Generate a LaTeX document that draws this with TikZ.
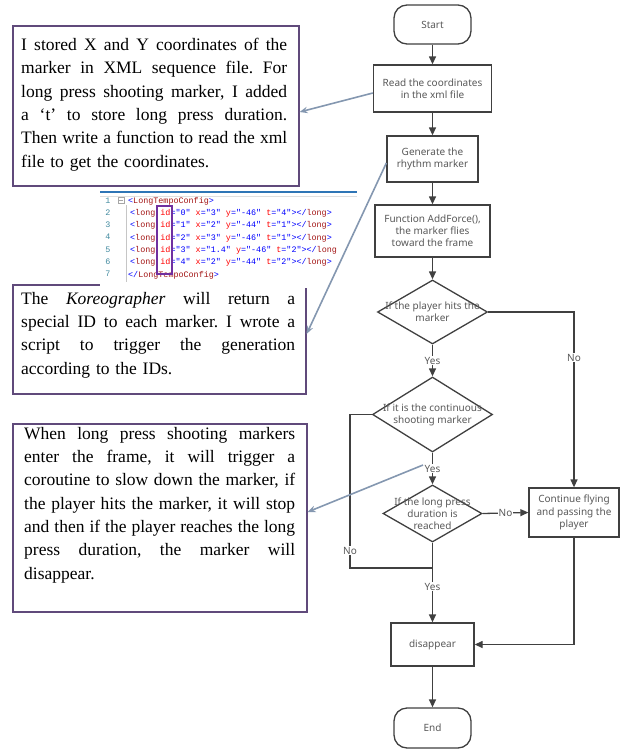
\documentclass[tikz,border=0pt]{standalone}
\usepackage{fontspec}
\setmainfont{Liberation Serif}
\newfontfamily\flowfont{Noto Sans}
\newfontfamily\codefont{Liberation Mono}
\usetikzlibrary{shapes.geometric,arrows.meta,calc}
\definecolor{boxpurple}{HTML}{604A7B}
\definecolor{linkblue}{HTML}{8497B0}
\definecolor{flowline}{HTML}{404040}
\definecolor{flowtext}{HTML}{595959}
\definecolor{codeblue}{HTML}{0000FF}
\definecolor{codebrown}{HTML}{A31515}
\definecolor{codered}{HTML}{FF0000}
\definecolor{codenum}{HTML}{2B91AF}
\definecolor{codebar}{HTML}{2E75B6}
\definecolor{hlpurple}{HTML}{7030A0}
\frenchspacing
\newcommand{\jl}[2]{{\spaceskip=0pt\xspaceskip=0pt\makebox[#1][s]{#2}}}
\newcommand{\kb}[1]{\textcolor{codeblue}{#1}}
\newcommand{\kn}[1]{\textcolor{codebrown}{#1}}
\newcommand{\kr}[1]{\textcolor{codered}{#1}}
\newcommand{\kline}[5]{\kb{<}\kn{long} \kr{id}\kb{="#1"} \kr{x}\kb{="#2"} \kr{y}\kb{="#3"} \kr{t}\kb{="#4"}\kb{></}\kn{long}#5}
\tikzset{
  notebox/.style={draw=boxpurple, line width=1.2pt, fill=white, inner sep=0pt},
  notetext/.style={inner sep=0pt, anchor=west, align=left, font=\fontsize{17.5}{23.3}\selectfont},
  flowbox/.style={draw=flowline, line width=1.3pt, fill=white, text=flowtext, align=center, inner sep=0pt,
    font=\flowfont\fontsize{10}{12.2}\selectfont},
  term/.style={flowbox, rounded corners=13pt},
  dia/.style={draw=flowline, line width=1.3pt, fill=white, diamond, inner sep=0pt},
  diatext/.style={text=flowtext, align=center, inner sep=0pt, font=\flowfont\fontsize{10}{12.2}\selectfont},
  flowarrow/.style={draw=flowline, line width=1.3pt, -{Triangle[length=8pt,width=7pt]}},
  flowline/.style={draw=flowline, line width=1.3pt},
  lbl/.style={fill=white, text=flowtext, inner sep=1pt, font=\flowfont\fontsize{10}{11}\selectfont},
  linkarrow/.style={draw=linkblue, line width=1.6pt, -{Stealth[length=8pt,width=6.5pt]}},
  codetext/.style={inner sep=0pt, anchor=base west, font=\codefont\fontsize{8.4}{10}\selectfont},
  codenum/.style={inner sep=0pt, anchor=base, text=codenum!70!gray, font=\codefont\fontsize{8.4}{10}\selectfont},
}
\begin{document}
\begin{tikzpicture}[x=1pt,y=-1pt]
\useasboundingbox (0,0) rectangle (628,755);

% ---------- note boxes ----------
\node[notebox, minimum width=286pt, minimum height=160pt] (box1) at (156,106) {};
\node[notetext, text width=266pt] (t1) at (21,104.5) {%
\jl{266pt}{I stored X and Y coordinates of the}\\
\jl{266pt}{marker in XML sequence file. For}\\
\jl{266pt}{long press shooting marker, I added}\\
\jl{266pt}{a `t' to store long press duration.}\\
\jl{266pt}{Then write a function to read the xml}\\
file to get the coordinates.};

\node[notebox, minimum width=293pt, minimum height=109pt] (box2) at (159.5,339.5) {};
\node[notetext, text width=274pt] (t2) at (21,335) {%
\jl{274pt}{The \textit{Koreographer} will return a}\\
\jl{274pt}{special ID to each marker. I wrote a}\\
\jl{274pt}{script to trigger the generation}\\
according to the IDs.};

\node[notebox, minimum width=294pt, minimum height=188pt] (box3) at (160,518) {};
\node[notetext, text width=271pt] (t3) at (24,505) {%
\jl{271pt}{When long press shooting markers}\\
\jl{271pt}{enter the frame, it will trigger a}\\
\jl{271pt}{coroutine to slow down the marker, if}\\
\jl{271pt}{the player hits the marker, it will stop}\\
\jl{271pt}{and then if the player reaches the long}\\
\jl{271pt}{press duration, the marker will}\\
disappear.};

% ---------- code snippet ----------
\node[fill=white, inner sep=0pt, minimum width=257pt, minimum height=99pt, anchor=north west] (code) at (100,189) {};
\draw[codebar, line width=1.8pt] (code.north west) ++(0,3) coordinate (cb1) -- ($(code.north east)+(0,3)$) coordinate (cb2);
\draw[gray!25, line width=0.8pt] ($(code.north west)+(0,7)$) coordinate (cl1) -- ($(code.north east)+(0,7)$) coordinate (cl2);
\draw[gray!45, line width=0.6pt] (126,205) coordinate (gv1) -- (126,282) coordinate (gv2);
\node[draw=gray!70, line width=0.5pt, minimum size=6pt, inner sep=0pt] (fold) at (121,200) {};
\draw[gray!70, line width=0.5pt] ($(fold.west)+(1.2,0)$) coordinate (fm1) -- ($(fold.east)+(-1.2,0)$) coordinate (fm2);
\foreach \i in {1,...,7} {
  \node[codenum] (n\i) at (108,{203+12.33*(\i-1)}) {\i};
}
\node[codetext] (c1) at (128,203) {\kb{<}\kn{LongTempoConfig}\kb{>}};
\node[codetext] (c2) at (130,215.33) {\kline{0}{3}{-46}{4}{\kb{>}}};
\node[codetext] (c3) at (130,227.66) {\kline{1}{2}{-44}{1}{\kb{>}}};
\node[codetext] (c4) at (130,240) {\kline{2}{3}{-46}{1}{\kb{>}}};
\node[codetext] (c5) at (130,252.33) {\kline{3}{1.4}{-46}{2}{}};
\node[codetext] (c6) at (130,264.66) {\kline{4}{2}{-44}{2}{\kb{>}}};
\node[codetext] (c7) at (128,277) {\kb{</}\kn{LongTempoConfig}\kb{>}};
\node[draw=hlpurple, line width=1.3pt, minimum width=15pt, minimum height=68pt, inner sep=0pt] (hl) at (164.5,240) {};

% ---------- flowchart ----------
\node[term, minimum width=77pt, minimum height=39pt] (start) at (432.5,24.5) {Start};
\node[flowbox, minimum width=118pt, minimum height=47pt] (read) at (432.5,88.5) {Read the coordinates\\in the xml file};
\node[flowbox, minimum width=91pt, minimum height=46pt] (gen) at (432.5,159) {Generate the\\rhythm marker};
\node[flowbox, minimum width=115pt, minimum height=52pt] (func) at (432.5,231) {Function AddForce(),\\the marker flies\\toward the frame};
\node[dia, minimum width=110pt, minimum height=64pt] (d1) at (432.5,312) {};
\node[diatext] (d1t) at (d1) {If the player hits the\\marker};
\node[dia, minimum width=120pt, minimum height=75pt] (d2) at (432.5,414.5) {};
\node[diatext] (d2t) at (d2) {If it is the continuous\\shooting marker};
\node[dia, minimum width=99pt, minimum height=57pt] (d3) at (432.5,513.5) {};
\node[diatext] (d3t) at (d3) {If the long press\\duration is\\reached};
\node[flowbox, minimum width=90pt, minimum height=49pt] (cont) at (574,512.5) {Continue flying\\and passing the\\player};
\node[flowbox, minimum width=83pt, minimum height=43pt] (disp) at (432.5,644.5) {disappear};
\node[term, minimum width=77pt, minimum height=40pt] (end) at (432.5,728) {End};
\coordinate (join) at (432.5,568);
\coordinate (nocorner) at (350,568);

\draw[flowarrow] (start) -- (read);
\draw[flowarrow] (read) -- (gen);
\draw[flowarrow] (gen) -- (func);
\draw[flowarrow] (func) -- (d1);
\draw[flowarrow] (d1) -- node[lbl] {Yes} (d2);
\draw[flowarrow] (d2) -- node[lbl] {Yes} (d3);
\draw[flowarrow] (d3) -- node[lbl, pos=0.55] {Yes} (disp);
\draw[flowarrow] (d1.east) -| node[lbl, pos=0.63] {No} (cont.north);
\draw[flowarrow] (d3.east) -- node[lbl] {No} (cont.west);
\draw[flowline] (d2.west) -| node[lbl, pos=0.944] {No} (nocorner) -- (join);
\draw[flowarrow] (cont.south) |- (disp.east);
\draw[flowarrow] (disp) -- (end);

% ---------- explanation links ----------
\coordinate (a3) at (423,465);
\draw[linkarrow] ([yshift=-4.5pt]read.west) -- ([yshift=-6pt]box1.east);
\draw[linkarrow] ([yshift=-4pt]gen.west) -- ([yshift=5.5pt]box2.east);
\draw[linkarrow] (a3) -- ([yshift=6pt]box3.east);
\end{tikzpicture}
\end{document}
